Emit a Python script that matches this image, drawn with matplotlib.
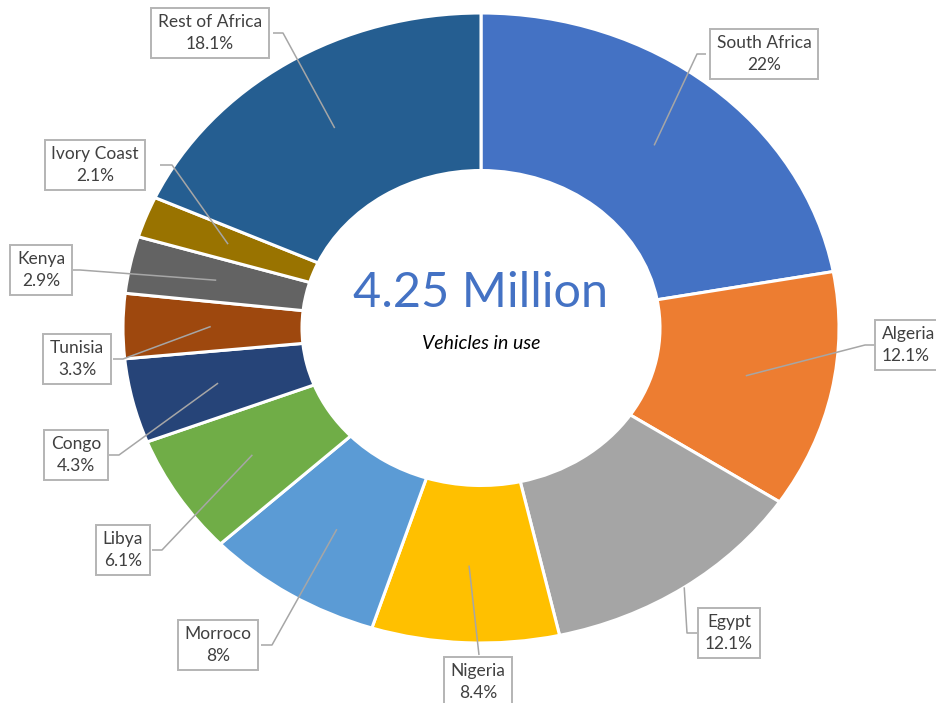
import numpy as np
import matplotlib
matplotlib.use("Agg")
import matplotlib.pyplot as plt

# ---- data ----
countries = ["South Africa", "Algeria", "Egypt", "Nigeria", "Morroco", "Libya",
             "Congo", "Tunisia", "Kenya", "Ivory Coast", "Rest of Africa"]
shares = [22, 12.1, 12.1, 8.4, 8, 6.1, 4.3, 3.3, 2.9, 2.1, 18.1]
share_labels = ["22%", "12.1%", "12.1%", "8.4%", "8%", "6.1%", "4.3%", "3.3%",
                "2.9%", "2.1%", "18.1%"]
colors = ["#4472C4", "#ED7D31", "#A5A5A5", "#FFC000", "#5B9BD5", "#70AD47",
          "#264478", "#9E480E", "#636363", "#997300", "#255E91"]
center_title = "4.25 Million"
center_sub = "Vehicles in use"

# ---- layout (pixels) ----
W, H = 937, 703
CX, CY, RX, RY = 481, 328, 358, 315

def d(px, py):
    return ((px - CX) / RX, (CY - py) / RY)

# label layout: text centre, elbow, box edge, line radius in slice
layout = {
    "South Africa":   dict(t=(764, 54), e=(697, 54), b=(706, 54), r=0.755),
    "Algeria":        dict(t=(915, 345), e=(865, 345), b=(875, 345), r=0.755),
    "Egypt":          dict(t=(729, 633), e=(687, 633), b=(697, 633), r=1.0),
    "Nigeria":        dict(t=(478, 682), e=(479, 655), b=(479, 655), r=0.755),
    "Morroco":        dict(t=(218, 645), e=(272, 645), b=(261, 645), r=0.755),
    "Libya":          dict(t=(123, 550), e=(162, 550), b=(152, 550), r=0.755),
    "Congo":          dict(t=(76, 455), e=(119, 455), b=(109, 455), r=0.755),
    "Tunisia":        dict(t=(77, 359), e=(123, 359), b=(113, 359), r=0.755),
    "Kenya":          dict(t=(41, 270), e=(80, 270), b=(73, 270), r=0.755),
    "Ivory Coast":    dict(t=(95, 165), e=(172, 165), b=(160, 165), r=0.755),
    "Rest of Africa": dict(t=(210, 33), e=(283, 33), b=(273, 33), r=0.755),
}

fig = plt.figure(figsize=(W / 100, H / 100), dpi=100)
ax = fig.add_axes([0, 0, 1, 1])
wedges, _ = ax.pie(shares, colors=colors, startangle=90, counterclock=False,
                   radius=1, center=(0, 0),
                   wedgeprops=dict(width=0.5, edgecolor="white", linewidth=2.2))
ax.set_aspect("auto")
ax.set_xlim(-CX / RX, (W - CX) / RX)
ax.set_ylim(-(H - CY) / RY, CY / RY)
ax.axis("off")

font = "Lato"
line_c = "#A6A6A6"
for w, name, lab in zip(wedges, countries, share_labels):
    L = layout[name]
    th = np.deg2rad((w.theta1 + w.theta2) / 2)
    r = L["r"]
    p0 = (r * np.cos(th), r * np.sin(th))
    pe = d(*L["e"])
    pb = d(*L["b"])
    ax.plot([p0[0], pe[0], pb[0]], [p0[1], pe[1], pb[1]], color=line_c, lw=1.1,
            zorder=3, solid_capstyle="butt")
    tx, ty = d(*L["t"])
    ha = "center"
    if name == "Algeria":
        tx, ty = d(882, 345)
        ha = "left"
    ax.text(tx, ty, f"{name}\n{lab}", ha=ha, va="center", fontsize=12.5,
            family=font, color="#404040", linespacing=1.4, zorder=4,
            bbox=dict(boxstyle="square,pad=0.38", fc="white", ec="#B4B4B4", lw=1.4))

ax.text(*d(481, 293), center_title, ha="center", va="center", fontsize=35,
        family=font, color="#4472C4")
ax.text(*d(481, 343), center_sub, ha="center", va="center", fontsize=14,
        family=font, style="italic", color="black")

fig.savefig("out.png", dpi=100)
